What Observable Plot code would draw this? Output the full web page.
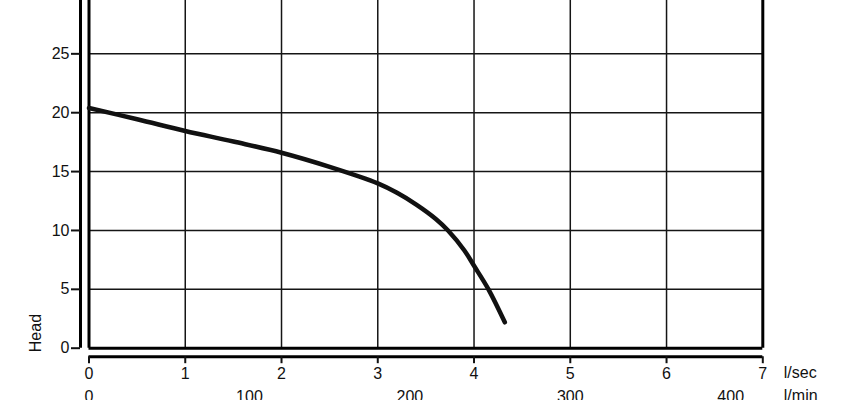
<!DOCTYPE html>
<html><head><meta charset="utf-8">
<script src="https://cdn.jsdelivr.net/npm/d3@7"></script>
<script src="https://cdn.jsdelivr.net/npm/@observablehq/plot@0.6"></script>
<style>body{margin:0;background:#fff;overflow:hidden}</style>
</head><body><div id="chart"></div>
<script>
const flowLs = [0, 0.5, 1, 1.5, 2, 2.5, 3, 3.2, 3.4, 3.6, 3.73, 3.9, 4.0, 4.15, 4.32];
const head   = [20.4, 19.45, 18.45, 17.55, 16.6, 15.4, 14.0, 13.2, 12.2, 11.0, 10.0, 8.3, 7.0, 5.0, 2.2];
const xTicks = [0, 1, 2, 3, 4, 5, 6, 7];
const yTicks = [0, 5, 10, 15, 20, 25];
const lminTicks = [0, 100, 200, 300, 400];
const xUnit = "l/sec";
const x2Unit = "l/min";
const yLabel = "Head";

const data = flowLs.map((x, i) => ({x, y: head[i]}));
const yMax = 29.53;
const font = "'Liberation Sans', Arial, sans-serif";
const fs = 16;

const plot = Plot.plot({
  width: 845, height: 400,
  marginLeft: 88.5, marginRight: 82.7, marginTop: 0, marginBottom: 52.3,
  x: {domain: [0, 7]},
  y: {domain: [0, yMax]},
  style: {fontFamily: font, fontSize: fs + "px", color: "#111", background: "#fff"},
  marks: [
    Plot.ruleX(xTicks.slice(1, -1), {stroke: "#151515", strokeWidth: 1.5}),
    Plot.ruleY(yTicks.slice(1), {stroke: "#151515", strokeWidth: 1.5}),
    Plot.ruleX([0, 7], {stroke: "#000", strokeWidth: 3}),
    Plot.ruleY([0], {stroke: "#000", strokeWidth: 3}),
    // offset y axis line
    Plot.ruleX([0], {y1: 0, y2: yMax, dx: -8.5, stroke: "#000", strokeWidth: 3}),
    Plot.axisY({ticks: yTicks, tickSize: 9, tickPadding: 2, dx: -8.5, label: null, tickFormat: d => d, strokeWidth: 2, fontSize: fs}),
    // offset x axis line
    Plot.ruleY([0], {x1: 0, x2: 7, dy: 8.5, stroke: "#000", strokeWidth: 3}),
    Plot.axisX({ticks: xTicks, tickSize: 7, tickPadding: 4, dy: 8.5, label: null, tickFormat: d => d, strokeWidth: 2, fontSize: fs}),
    Plot.axisX({ticks: lminTicks.map(v => v / 60), tickSize: 0, tickPadding: 42, label: null, tickFormat: d => Math.round(d * 60), fontSize: fs}),
    Plot.text([xUnit], {x: () => 7, y: () => 0, text: d => d, dx: 21, dy: 24.5, textAnchor: "start", fontSize: fs}),
    Plot.text([x2Unit], {x: () => 7, y: () => 0, text: d => d, dx: 21, dy: 48, textAnchor: "start", fontSize: fs}),
    Plot.text([yLabel], {x: () => 0, y: () => 0, text: d => d, dx: -53.5, dy: 4, rotate: -90, textAnchor: "start", fontSize: fs}),
    Plot.line(data, {x: "x", y: "y", stroke: "#111", strokeWidth: 4.5, curve: "catmull-rom"})
  ]
});
document.getElementById("chart").appendChild(plot);
</script>
</body></html>
